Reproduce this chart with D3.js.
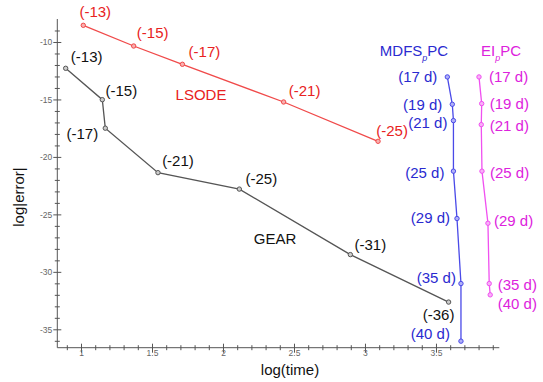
<!DOCTYPE html>
<html>
<head>
<meta charset="utf-8">
<script src="https://cdn.jsdelivr.net/npm/d3@7/dist/d3.min.js"></script>
<style>
  body { margin: 0; background: #fff; }
  text { font-family: "Liberation Sans", Arial, sans-serif; }
  .tick text { fill: #666; font-size: 8.5px; }
</style>
</head>
<body>
<div id="chart"></div>
<script>
// values: log(time) vs log|error|
var gearTime  = [0.892, 1.150, 1.171, 1.542, 2.115, 2.897, 3.589];
var gearErr   = [-12.29, -15.02, -17.5, -21.37, -22.8, -28.5, -32.63];
var gearLabels = ["(-13)", "(-15)", "(-17)", "(-21)", "(-25)", "(-31)", "(-36)"];

var lsodeTime = [1.016, 1.371, 1.714, 2.427, 3.092];
var lsodeErr  = [-8.55, -10.35, -11.94, -15.22, -18.64];
var lsodeLabels = ["(-13)", "(-15)", "(-17)", "(-21)", "(-25)"];

var mdfsTime = [3.580, 3.615, 3.623, 3.623, 3.648, 3.676, 3.676];
var mdfsErr  = [-13.04, -15.42, -16.84, -21.24, -25.36, -31.02, -36.03];
var eiTime   = [3.803, 3.822, 3.819, 3.824, 3.866, 3.875, 3.882];
var eiErr    = [-13.04, -15.36, -17.19, -21.24, -25.77, -31.02, -32.0];
var digitLabels = ["(17 d)", "(19 d)", "(21 d)", "(25 d)", "(29 d)", "(35 d)", "(40 d)"];

var xTicks = [1, 1.5, 2, 2.5, 3, 3.5];
var yTicks = [-10, -15, -20, -25, -30, -35];

// label offsets from each point (layout only)
var gearOff  = [[21,-12],[19,-9],[-23,6],[20,-12],[22,-10],[20,-10],[-10,13]];
var lsodeOff = [[12,-14],[19,-13],[22,-13],[21,-11],[14,-11]];
var mdfsOff  = [[-10,0],[-10,0],[-6,2],[-9,2],[-7,-1],[-5,-6],[-11,-7]];
var eiOff    = [[10,0],[8,0],[8.5,1],[8,2],[6,-2],[8.5,1],[7.5,9]];

var W = 543, H = 382;
var svg = d3.select("#chart").append("svg").attr("width", W).attr("height", H);

var x = d3.scaleLinear().domain([0.833, 3.946]).range([57.3, 499.3]);
var y = d3.scaleLinear().domain([-36.6, -8]).range([347.7, 19]);

function isMajor(v, step){ return Math.abs(v / step - Math.round(v / step)) < 1e-6; }

// x axis
var xMinor = d3.range(9, 40).map(function(d){ return d / 10; });
var xAxis = svg.append("g").attr("transform", "translate(0," + y.range()[0] + ")")
  .call(d3.axisBottom(x).tickValues(xMinor).tickSizeOuter(0)
    .tickFormat(function(d){ return isMajor(d, 0.5) ? d3.format("")(+d.toFixed(1)) : ""; }));
xAxis.select(".domain").attr("stroke", "#555").attr("d", "M" + x.range()[0] + ",0H" + x.range()[1]);
xAxis.selectAll(".tick line").attr("stroke", "#555")
  .attr("y1", function(d){ return isMajor(d, 0.5) ? -4 : -2.5; })
  .attr("y2", function(d){ return isMajor(d, 0.5) ? 5 : 2.5; });
xAxis.selectAll(".tick text").attr("y", 2).attr("dy", "0.71em");

// y axis
var yMinor = d3.range(-36, -8).map(function(d){ return d; });
var yAxis = svg.append("g").attr("transform", "translate(" + x.range()[0] + ",0)")
  .call(d3.axisLeft(y).tickValues(yMinor).tickSizeOuter(0)
    .tickFormat(function(d){ return isMajor(d, 5) ? d : ""; }));
yAxis.select(".domain").attr("stroke", "#555").attr("d", "M0," + y.range()[1] + "V" + y.range()[0]);
yAxis.selectAll(".tick line").attr("stroke", "#555")
  .attr("x1", function(d){ return isMajor(d, 5) ? -4 : -2.5; })
  .attr("x2", function(d){ return isMajor(d, 5) ? 4 : 2.5; });
yAxis.selectAll(".tick text").attr("x", -5);

// axis titles
svg.append("text").attr("x", 290).attr("y", 375).attr("text-anchor", "middle")
  .style("font-size", "15px").attr("fill", "#111").text("log(time)");
svg.append("text").attr("transform", "translate(24,197) rotate(-90)").attr("text-anchor", "middle")
  .style("font-size", "15px").attr("fill", "#111").text("log|error|");

function series(times, errs, labels, offs, lineColor, textColor, markFill, anchor){
  var pts = times.map(function(t, i){ return { t: t, e: errs[i], lab: labels[i], off: offs[i] }; });
  var line = d3.line().x(function(d){ return x(d.t); }).y(function(d){ return y(d.e); });
  svg.append("path").datum(pts).attr("d", line)
    .attr("fill", "none").attr("stroke", lineColor).attr("stroke-width", 1.3);
  svg.selectAll(null).data(pts).enter().append("circle")
    .attr("cx", function(d){ return x(d.t); }).attr("cy", function(d){ return y(d.e); })
    .attr("r", 2.2).attr("fill", markFill).attr("stroke", lineColor).attr("stroke-width", 1);
  svg.selectAll(null).data(pts).enter().append("text")
    .attr("x", function(d){ return x(d.t) + d.off[0]; })
    .attr("y", function(d){ return y(d.e) + d.off[1]; })
    .attr("dy", "0.35em")
    .attr("text-anchor", anchor)
    .style("font-size", "15px")
    .attr("fill", textColor)
    .text(function(d){ return d.lab; });
}

series(lsodeTime, lsodeErr, lsodeLabels, lsodeOff, "#f04a4a", "#e82222", "#f8b0b0", "middle");
series(gearTime, gearErr, gearLabels, gearOff, "#555", "#111", "#ccc", "middle");
series(mdfsTime, mdfsErr, digitLabels, mdfsOff, "#4a4ae8", "#2a2ad0", "#b0b0f8", "end");
series(eiTime, eiErr, digitLabels, eiOff, "#f050f0", "#dd22dd", "#f8b0f8", "start");

// series names
svg.append("text").attr("x", 201).attr("y", 95).attr("dy", "0.35em").attr("text-anchor", "middle")
  .style("font-size", "15px").attr("fill", "#e82222").text("LSODE");
svg.append("text").attr("x", 275).attr("y", 239).attr("dy", "0.35em").attr("text-anchor", "middle")
  .style("font-size", "15px").attr("fill", "#111").text("GEAR");

function subTitle(cx, base, sub, tail, color){
  var t = svg.append("text").attr("x", cx).attr("y", 51).attr("dy", "0.35em")
    .attr("text-anchor", "middle").style("font-size", "15px").attr("fill", color);
  t.append("tspan").text(base);
  t.append("tspan").attr("dy", 5).style("font-size", "9px").style("font-style", "italic").text(sub);
  t.append("tspan").attr("dy", -5).text(tail);
}
subTitle(414, "MDFS", "p", "PC", "#2a2ad0");
subTitle(501, "EI", "p", "PC", "#dd22dd");
</script>
</body>
</html>
